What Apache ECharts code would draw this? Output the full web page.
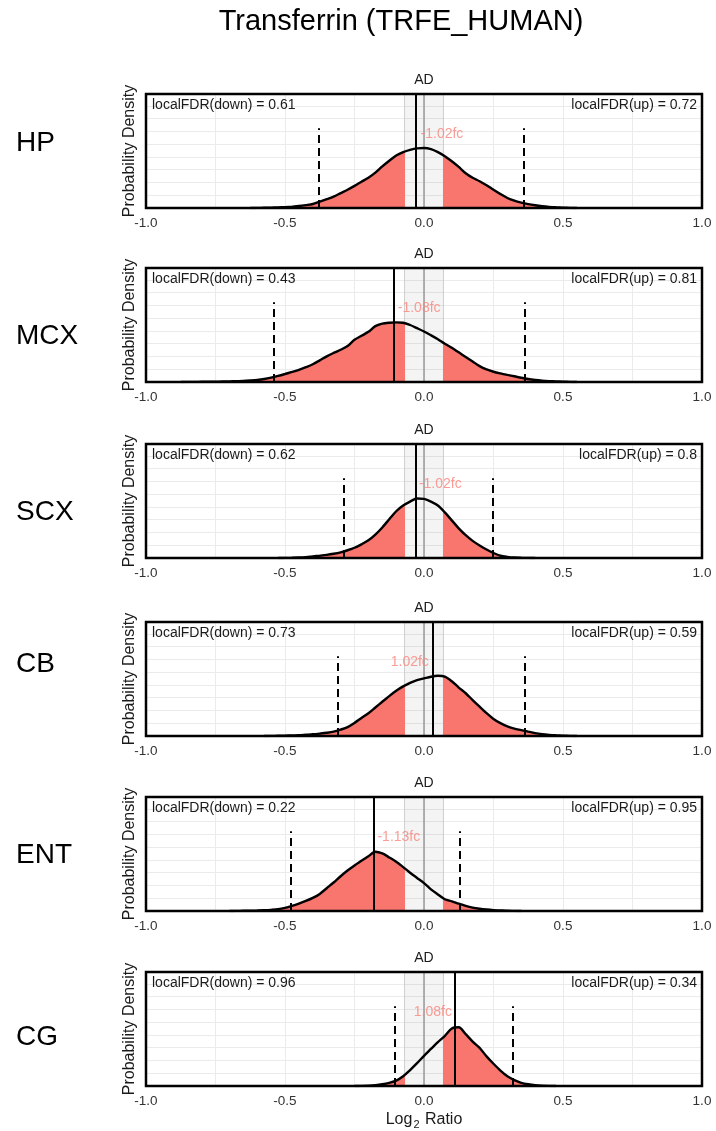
<!DOCTYPE html>
<html>
<head>
<meta charset="utf-8">
<script src="https://cdn.jsdelivr.net/npm/echarts@6/dist/echarts.min.js"></script>
<style>
html,body{margin:0;padding:0;background:#fff;}
#chart{width:716px;height:1131px;}
</style>
</head>
<body>
<div id="chart"></div>
<script>
// ---------------- data ----------------
const chartTitle = 'Transferrin (TRFE_HUMAN)';
const panelTitle = 'AD';
const regions = ['HP', 'MCX', 'SCX', 'CB', 'ENT', 'CG'];
const xTickLabels = ['-1.0', '-0.5', '0.0', '0.5', '1.0'];

// log2 ratio grid on which the densities were read
const xGrid = [-0.9, -0.875, -0.85, -0.825, -0.8, -0.775, -0.75, -0.725, -0.7, -0.675,
  -0.65, -0.625, -0.6, -0.575, -0.55, -0.525, -0.5, -0.475, -0.45, -0.425,
  -0.4, -0.375, -0.35, -0.325, -0.3, -0.275, -0.25, -0.225, -0.2, -0.175,
  -0.15, -0.125, -0.1, -0.075, -0.05, -0.025, 0, 0.025, 0.05, 0.075,
  0.1, 0.125, 0.15, 0.175, 0.2, 0.225, 0.25, 0.275, 0.3, 0.325,
  0.35, 0.375, 0.4, 0.425, 0.45, 0.475, 0.5, 0.525, 0.55, 0.575, 0.6];

// probability density (relative to panel height)
const densHP = [0,0,0,0,0,0,0,0,0,0,0,0,
  0.001,0.002,0.003,0.005,0.008,0.012,0.017,0.025,0.035,0.056,0.077,0.1,0.13,0.16,0.194,
  0.23,0.265,0.31,0.365,0.415,0.46,0.49,0.51,0.523,0.526,0.516,0.49,0.455,0.41,0.36,
  0.305,0.265,0.235,0.2,0.16,0.122,0.088,0.064,0.047,0.034,0.024,0.016,0.01,0.006,0.003,0.001,
  0,0,0];
const densMCX = [0,0,
  0.001,0.001,0.002,0.002,0.003,0.004,0.005,0.007,0.009,0.013,0.018,0.026,0.038,0.053,
  0.07,0.088,0.107,0.13,0.156,0.19,0.225,0.255,0.283,0.315,0.37,0.405,0.44,0.49,
  0.512,0.52,0.523,0.52,0.5,0.472,0.443,0.41,0.375,0.335,0.3,0.26,0.22,0.18,0.139,
  0.11,0.09,0.075,0.062,0.05,0.037,0.026,0.018,0.012,0.008,0.005,0.003,0.001,
  0,0,0];
const densSCX = [0,0,0,0,0,0,0,0,0,0,0,0,0,0,0,0,
  0.001,0.002,0.004,0.008,0.014,0.02,0.027,0.037,0.05,0.068,0.09,0.12,0.155,0.205,
  0.268,0.34,0.41,0.46,0.495,0.522,0.518,0.495,0.46,0.4,0.33,0.26,0.2,0.15,0.11,
  0.075,0.044,0.02,0.01,0.004,0.002,0.001,
  0,0,0,0,0,0,0,0,0];
const densCB = [0,0,0,0,0,0,0,0,0,0,0,0,0,0,
  0.001,0.002,0.003,0.005,0.007,0.011,0.015,0.021,0.028,0.038,0.056,0.078,0.115,0.158,
  0.2,0.25,0.3,0.35,0.397,0.435,0.466,0.49,0.505,0.52,0.528,0.52,0.48,0.425,0.375,
  0.315,0.257,0.2,0.15,0.113,0.085,0.065,0.052,0.038,0.025,0.016,0.01,0.006,0.003,0.001,
  0,0,0];
const densENT = [0,0,0,0,0,0,0,0,0,
  0.001,0.002,0.003,0.004,0.006,0.01,0.016,0.028,0.045,0.065,0.088,0.115,0.15,0.2,
  0.25,0.305,0.355,0.4,0.44,0.48,0.52,0.505,0.47,0.432,0.385,0.335,0.29,0.245,0.19,
  0.145,0.103,0.085,0.064,0.045,0.03,0.02,0.013,0.008,0.005,0.002,0.001,
  0,0,0,0,0,0,0,0,0,0,0];
const densCG = [0,0,0,0,0,0,0,0,0,0,0,0,0,0,0,0,0,0,0,0,0,0,0,0,0,0,0,
  0.001,0.003,0.007,0.015,0.028,0.047,0.085,0.14,0.2,0.265,0.325,0.385,0.44,0.505,
  0.515,0.455,0.39,0.335,0.26,0.195,0.135,0.085,0.052,0.028,0.015,0.007,0.003,0.001,
  0,0,0,0,0,0,0];

const estimates = [-0.025, -0.107, -0.031, 0.03, -0.18, 0.113];
const fcLabels = ['-1.02fc', '-1.08fc', '-1.02fc', '1.02fc', '-1.13fc', '1.08fc'];
const lowerBound = [-0.377, -0.54, -0.29, -0.311, -0.48, -0.105];
const upperBound = [0.36, 0.361, 0.247, 0.362, 0.127, 0.319];
const fdrDown = [0.61, 0.43, 0.62, 0.73, 0.22, 0.96];
const fdrUp = [0.72, 0.81, 0.8, 0.59, 0.95, 0.34];
const bandHalf = 0.07;      // +/- log2(1.05) no-change band
const dashTop = 0.70;       // height of the interval markers
const fcLabelY = 0.65;      // height of the fold-change label

// ---------------- layout ----------------
const FONT = 'Liberation Sans, Arial, Helvetica, sans-serif';
const W = 716;
const panelLeft = 146, panelWidth = 556, panelHeight = 114;
const panelTops = [94, 268, 444, 622, 797, 972];
const regionLabelY = [143, 336, 512, 664, 855, 1037];
const densities = [densHP, densMCX, densSCX, densCB, densENT, densCG];

const RED = '#F8766D';

const grids = [], xAxes = [], yAxes = [], series = [], visualMaps = [], titles = [], graphics = [];

titles.push({
  text: chartTitle, left: 401, top: 7, textAlign: 'center', padding: 0,
  textStyle: {fontSize: 29, fontWeight: 'normal', color: '#000', fontFamily: FONT}
});

// keep the support of a density (one zero point on each side)
function support(d) {
  let a = d.findIndex(v => v > 0), b = d.length - 1;
  while (b > 0 && d[b] === 0) b--;
  return [Math.max(0, a - 1), Math.min(d.length - 1, b + 1)];
}

regions.forEach((reg, i) => {
  const top = panelTops[i];
  grids.push({left: panelLeft, top: top, width: panelWidth, height: panelHeight, containLabel: false});
  const isLast = i === regions.length - 1;
  xAxes.push({
    type: 'value', gridIndex: i, min: -1, max: 1, interval: 0.25,
    axisLine: {show: false}, axisTick: {show: false},
    splitLine: {show: true, lineStyle: {color: '#ebebeb', width: 1}},
    axisLabel: {
      fontSize: 13.5, color: '#333', margin: 8, fontFamily: FONT,
      formatter: v => {
        const k = Math.round((v + 1) * 2);
        return Math.abs((v + 1) * 2 - k) < 1e-6 ? xTickLabels[k] : '';
      }
    },
    name: isLast ? '{a|Log}{b|2}{a| Ratio}' : '',
    nameLocation: 'middle', nameGap: 24,
    nameTextStyle: {
      fontFamily: FONT, color: '#1a1a1a',
      rich: {
        a: {fontSize: 16, color: '#1a1a1a', fontFamily: FONT, lineHeight: 20},
        b: {fontSize: 11, color: '#1a1a1a', fontFamily: FONT, lineHeight: 11, verticalAlign: 'bottom', padding: [0, 1, 0, 1]}
      }
    }
  });
  yAxes.push({
    type: 'value', gridIndex: i, min: 0, max: 1, interval: 0.112,
    axisLine: {show: false}, axisTick: {show: false}, axisLabel: {show: false},
    splitLine: {show: true, lineStyle: {color: '#ebebeb', width: 1}},
    name: 'Probability Density', nameLocation: 'middle', nameGap: 8,
    nameTextStyle: {fontSize: 16, color: '#1a1a1a', fontFamily: FONT}
  });

  const d = densities[i];
  const [s, e] = support(d);
  const pts = [];
  for (let j = s; j <= e; j++) pts.push([xGrid[j], d[j]]);
  const areaIdx = series.length;
  series.push({
    type: 'line', xAxisIndex: i, yAxisIndex: i, data: pts, smooth: 0.3,
    symbol: 'none', silent: true, z: 2,
    lineStyle: {width: 0}, areaStyle: {opacity: 1},
    markArea: {
      silent: true, z: 1,
      itemStyle: {color: 'rgba(0,0,0,0.045)', borderColor: '#cfcfcf', borderWidth: 1},
      data: [[{xAxis: -bandHalf}, {xAxis: bandHalf}]]
    },
    markLine: {
      silent: true, symbol: 'none', z: 3, label: {show: false},
      lineStyle: {color: '#9a9a9a', width: 1.5, type: 'solid'},
      data: [{xAxis: 0}]
    }
  });
  visualMaps.push({
    type: 'piecewise', show: false, dimension: 0, seriesIndex: areaIdx,
    pieces: [{gt: -bandHalf, lt: bandHalf, color: 'rgba(255,255,255,0)'}],
    outOfRange: {color: RED}
  });
  series.push({
    type: 'line', xAxisIndex: i, yAxisIndex: i, data: pts, smooth: 0.3,
    symbol: 'none', silent: true, z: 4,
    lineStyle: {color: '#000', width: 2.4},
    markLine: {
      silent: true, symbol: 'none', z: 5, label: {show: false},
      data: [
        {xAxis: estimates[i], lineStyle: {color: '#000', width: 2, type: 'solid'}},
        [{coord: [lowerBound[i], 0], lineStyle: {color: '#000', width: 2, type: [8, 5]}}, {coord: [lowerBound[i], dashTop]}],
        [{coord: [upperBound[i], 0], lineStyle: {color: '#000', width: 2, type: [8, 5]}}, {coord: [upperBound[i], dashTop]}]
      ]
    }
  });
  series.push({
    type: 'scatter', xAxisIndex: i, yAxisIndex: i, silent: true, z: 6,
    data: [[estimates[i], fcLabelY]], symbolSize: 1,
    itemStyle: {color: 'rgba(0,0,0,0)'},
    label: {
      show: true, formatter: fcLabels[i], position: estimates[i] < 0 ? 'right' : 'left',
      distance: 3, color: '#F8857C', fontSize: 14, fontFamily: FONT
    }
  });

  titles.push({
    text: panelTitle, left: panelLeft + panelWidth / 2, top: top - 21, textAlign: 'center', padding: 0,
    textStyle: {fontSize: 14, fontWeight: 'normal', color: '#1a1a1a', fontFamily: FONT}
  });
  titles.push({
    text: 'localFDR(down) = ' + fdrDown[i], left: panelLeft + 6, top: top + 4, padding: 0,
    textStyle: {fontSize: 14, fontWeight: 'normal', color: '#1a1a1a', fontFamily: FONT}
  });
  titles.push({
    text: 'localFDR(up) = ' + fdrUp[i], right: W - (panelLeft + panelWidth) + 5, top: top + 4, padding: 0,
    textStyle: {fontSize: 14, fontWeight: 'normal', color: '#1a1a1a', fontFamily: FONT}
  });
  titles.push({
    text: reg, left: 16, top: regionLabelY[i] - 14, padding: 0,
    textStyle: {fontSize: 28, fontWeight: 'normal', color: '#000', fontFamily: FONT}
  });
  graphics.push({
    type: 'rect', silent: true, z: 100,
    shape: {x: panelLeft, y: top, width: panelWidth, height: panelHeight},
    style: {fill: 'none', stroke: '#000', lineWidth: 2.5}
  });
});

const chart = echarts.init(document.getElementById('chart'), null, {renderer: 'canvas'});
chart.setOption({
  backgroundColor: '#fff',
  animation: false,
  textStyle: {fontFamily: FONT},
  title: titles,
  grid: grids,
  xAxis: xAxes,
  yAxis: yAxes,
  visualMap: visualMaps,
  series: series,
  graphic: graphics
});
</script>
</body>
</html>
